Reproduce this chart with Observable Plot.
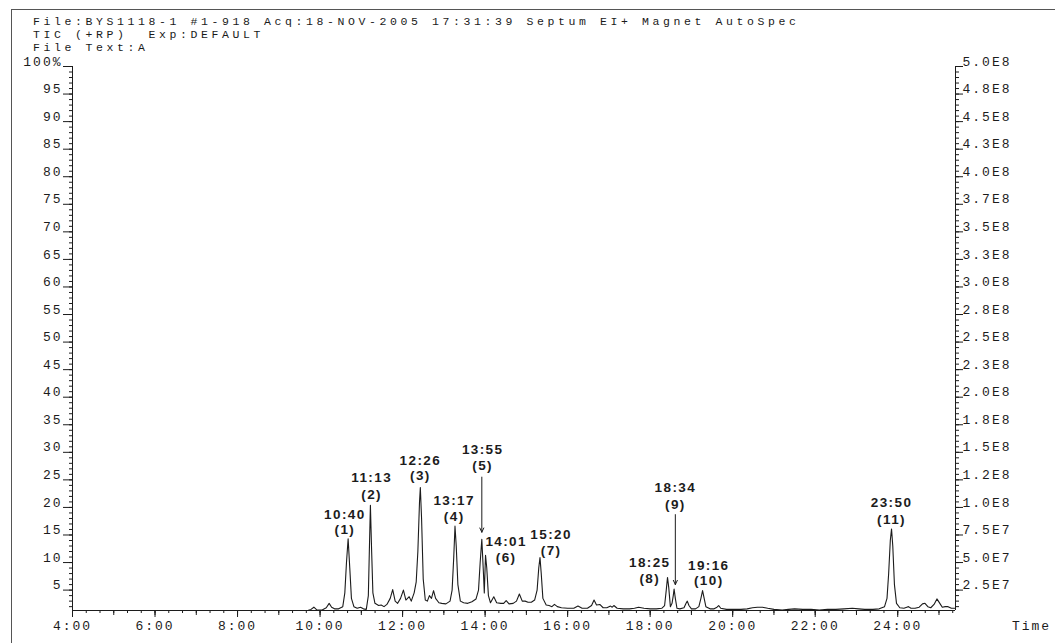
<!DOCTYPE html>
<html>
<head>
<meta charset="utf-8">
<script src="https://cdn.jsdelivr.net/npm/d3@7"></script>
<script src="https://cdn.jsdelivr.net/npm/@observablehq/plot@0.6"></script>
<style>
  html, body { margin: 0; padding: 0; background: #fff; }
  #wrap { position: relative; width: 1055px; height: 643px; overflow: hidden; background: #fff; }
  #frame { position: absolute; left: 11px; top: 9px; width: 1060px; height: 650px;
           border-left: 1px solid #555; border-top: 1px solid #555; }
  .hdr { position: absolute; left: 33px; font-family: "Liberation Mono", monospace; font-size: 11.5px;
         letter-spacing: 3.6px; color: #1a1a1a; white-space: pre; line-height: 11px; height: 11px; }
  #chart { position: absolute; left: 0; top: 0; }
  #chart svg text { letter-spacing: 2px; }
  #chart svg g.peaklab text { letter-spacing: 1.4px; }
</style>
</head>
<body>
<div id="wrap">
  <div id="frame"></div>
  <div id="chart"></div>
  <div class="hdr" style="top:16px">File:BYS1118-1 #1-918 Acq:18-NOV-2005 17:31:39 Septum EI+ Magnet AutoSpec</div>
  <div class="hdr" style="top:29px">TIC (+RP)  Exp:DEFAULT</div>
  <div class="hdr" style="top:42px">File Text:A</div>
</div>
<script>
// ---- data ----
const traceTime = [4.0, 9.70, 9.78, 9.85, 9.92, 10.05, 10.15, 10.22, 10.28, 10.35, 10.45, 10.55,
  10.60, 10.64, 10.68, 10.72, 10.76, 10.82, 10.90, 10.98, 11.05, 11.12,
  11.17, 11.20, 11.22, 11.25, 11.28, 11.33, 11.42, 11.48, 11.55, 11.62,
  11.70, 11.76, 11.82, 11.88, 11.95, 12.02, 12.08, 12.16, 12.21, 12.28, 12.33,
  12.37, 12.41, 12.43, 12.46, 12.50, 12.55, 12.60, 12.65, 12.70, 12.75, 12.80, 12.88, 12.95, 13.05, 13.15, 13.20,
  13.24, 13.27, 13.30, 13.34, 13.40, 13.48, 13.58, 13.68, 13.78, 13.84,
  13.88, 13.92, 13.96, 13.98,
  14.01, 14.04, 14.08, 14.13, 14.21, 14.28, 14.38, 14.45, 14.51, 14.58, 14.68, 14.76, 14.83, 14.90, 14.97, 15.04, 15.12, 15.20, 15.26,
  15.30, 15.33, 15.36, 15.40, 15.48, 15.55, 15.62, 15.68, 15.75, 15.85, 16.00, 16.15, 16.25, 16.35, 16.48, 16.58, 16.64, 16.70, 16.78, 16.86, 16.95, 17.04, 17.08, 17.12, 17.20, 17.35, 17.50, 17.62, 17.72, 17.85, 18.00, 18.15, 18.28, 18.35,
  18.39, 18.42, 18.45, 18.49, 18.53,
  18.56, 18.58, 18.61, 18.65, 18.72, 18.82, 18.87, 18.90, 18.94, 19.00, 19.10, 19.18, 19.23,
  19.27, 19.30, 19.35, 19.45, 19.55, 19.62, 19.66, 19.71, 19.85, 20.00, 20.20, 20.35, 20.48, 20.60, 20.72, 20.85, 21.00, 21.20, 21.35, 21.50, 21.70, 21.90, 22.10, 22.30, 22.50, 22.70, 22.90, 23.05, 23.20, 23.40, 23.55, 23.68, 23.74,
  23.78, 23.82, 23.85, 23.88, 23.92, 23.97, 24.05, 24.15, 24.22, 24.26, 24.32, 24.42, 24.52, 24.60, 24.66, 24.73, 24.80, 24.88, 24.95, 25.02, 25.08, 25.15, 25.22, 25.30, 25.38];
const traceIntensity = [1.3, 1.3, 1.5, 1.9, 1.4, 1.4, 1.8, 2.6, 1.9, 1.6, 1.6, 2.0,
  4.5, 10, 14.3, 9, 3.5, 2.0, 1.7, 1.9, 1.6, 1.5,
  4, 14, 20.4, 12, 4.5, 2.6, 2.2, 2.3, 2.0, 2.4,
  3.5, 5.1, 3.0, 2.6, 3.5, 5.0, 3.2, 3.8, 3.0, 4.5, 6.5,
  12, 21, 23.6, 18, 7, 3.2, 3.0, 4.0, 3.5, 4.9, 3.5, 2.7, 2.6, 2.5, 3.0, 5,
  11, 16.6, 13, 6, 3.0, 2.7, 2.6, 2.9, 3.4, 5,
  10, 14.2, 8, 4.5,
  11.3, 9, 4, 2.7, 3.8, 2.7, 2.6, 2.6, 3.1, 2.5, 2.6, 3.0, 4.3, 3.0, 3.0, 2.8, 2.8, 3.2, 5,
  9, 10.9, 8, 3.5, 2.3, 2.2, 2.0, 2.4, 2.0, 1.8, 1.7, 1.7, 2.1, 1.7, 1.7, 2.2, 3.2, 2.3, 2.4, 1.8, 1.8, 2.1, 1.9, 2.2, 1.7, 1.6, 1.6, 1.7, 1.9, 1.7, 1.6, 1.6, 1.7, 2.2,
  5, 7.3, 5.5, 2.0, 2.6,
  4, 5.2, 3.5, 1.7, 1.6, 1.8, 2.6, 3.0, 2.2, 1.6, 1.6, 2.0, 3.5,
  4.9, 3.8, 2.0, 1.6, 1.6, 1.9, 2.2, 1.7, 1.5, 1.5, 1.5, 1.6, 1.8, 1.9, 1.9, 1.7, 1.5, 1.4, 1.5, 1.6, 1.5, 1.5, 1.4, 1.5, 1.5, 1.6, 1.7, 1.6, 1.5, 1.5, 1.6, 2.0, 3.5,
  8, 14, 16.1, 13, 6, 2.6, 1.8, 1.7, 1.9, 2.0, 1.7, 1.7, 1.9, 2.5, 2.6, 2.0, 1.8, 2.4, 3.4, 2.6, 1.9, 2.0, 2.0, 1.7, 1.7];

const peakTimes = ["10:40", "11:13", "12:26", "13:17", "13:55", "14:01", "15:20", "18:25", "18:34", "19:16", "23:50"];
const peakNumbers = ["(1)", "(2)", "(3)", "(4)", "(5)", "(6)", "(7)", "(8)", "(9)", "(10)", "(11)"];
const labelAt = [10.60, 11.25, 12.43, 13.25, 13.94, 14.51, 15.60, 17.99, 18.61, 19.42, 23.85];
const labelTimeLevel = [18.7, 25.4, 28.5, 21.3, 30.5, 13.7, 15.1, 9.9, 23.5, 9.5, 20.8];
const labelNumLevel = [15.9, 22.3, 25.8, 18.4, 27.6, 10.9, 12.2, 7.05, 20.5, 6.7, 17.8];

const arrowAt = [13.92, 18.61];
const arrowFrom = [25.5, 18.7];
const arrowTo = [15.5, 6.0];

const leftTicks = d3.range(5, 101, 5);
const leftTickLabels = leftTicks.map(v => v === 100 ? "100%" : String(v));
const rightTickLabels = ["2.5E7", "5.0E7", "7.5E7", "1.0E8", "1.2E8", "1.5E8", "1.8E8", "2.0E8", "2.3E8", "2.5E8",
  "2.8E8", "3.0E8", "3.3E8", "3.5E8", "3.7E8", "4.0E8", "4.3E8", "4.5E8", "4.8E8", "5.0E8"];
const timeTicks = d3.range(4, 25, 2);
const timeTickLabels = timeTicks.map(m => m + ":00");

// ---- build ----
const trace = traceTime.map((t, i) => ({t, v: traceIntensity[i]}));
const labels = peakTimes.map((s, i) => ({s, n: peakNumbers[i], x: labelAt[i], y1: labelTimeLevel[i], y2: labelNumLevel[i]}));
const arrows = arrowAt.map((x, i) => ({x, y1: arrowFrom[i], y2: arrowTo[i]}));
const X0 = 4, X1 = 25.4, Y0 = 1.3, Y1 = 100;
const ink = "#1c1c1c";

const chart = Plot.plot({
  width: 1055, height: 643,
  marginLeft: 72, marginRight: 100, marginTop: 66, marginBottom: 33,
  x: {domain: [X0, X1], axis: null},
  y: {domain: [Y0, Y1], axis: null},
  style: {fontFamily: "Liberation Mono, monospace", fontSize: "13px", color: ink, background: "transparent", overflow: "visible"},
  marks: [
    // axis lines
    Plot.ruleX([X0], {stroke: ink}),
    Plot.ruleX([X1], {stroke: ink}),
    Plot.ruleY([Y0], {stroke: ink}),
    // left axis
    Plot.axisY({anchor: "left", ticks: d3.range(2, 100, 1), tickSize: 3, tickFormat: () => "", stroke: ink}),
    Plot.axisY({anchor: "left", ticks: leftTicks, tickSize: 9, tickFormat: () => "", stroke: ink}),
    Plot.axisY({anchor: "left", ticks: leftTicks, tickSize: 0, tickPadding: 10, dy: -5, fill: ink,
      tickFormat: v => leftTickLabels[leftTicks.indexOf(v)]}),
    // right axis
    Plot.axisY({anchor: "right", ticks: d3.range(2, 100, 1), tickSize: 3, tickFormat: () => "", stroke: ink}),
    Plot.axisY({anchor: "right", ticks: leftTicks, tickSize: 7, tickFormat: () => "", stroke: ink}),
    Plot.axisY({anchor: "right", ticks: leftTicks, tickSize: 0, tickPadding: 7, dy: -5, fill: ink,
      tickFormat: v => rightTickLabels[leftTicks.indexOf(v)]}),
    // time axis
    Plot.axisX({anchor: "bottom", ticks: d3.range(4, 25.4, 1 / 3), tickSize: 3, tickFormat: () => "", stroke: ink}),
    Plot.axisX({anchor: "bottom", ticks: d3.range(4, 25.4, 1), tickSize: 5, tickFormat: () => "", stroke: ink}),
    Plot.axisX({anchor: "bottom", ticks: timeTicks, tickSize: 7, tickPadding: 3, fill: ink, stroke: ink,
      tickFormat: v => timeTickLabels[timeTicks.indexOf(v)]}),
    Plot.text(["Time"], {frameAnchor: "bottom-right", dx: 76, dy: 19, text: d => d, fill: ink, textAnchor: "middle"}),
    // chromatogram
    Plot.line(trace, {x: "t", y: "v", stroke: ink, strokeWidth: 1.1, curve: "linear"}),
    // arrows
    Plot.arrow(arrows, {x1: "x", x2: "x", y1: "y1", y2: "y2", stroke: ink, strokeWidth: 1, headLength: 7, headAngle: 50}),
    // peak labels
    Plot.text(labels, {x: "x", y: "y1", text: "s", fontFamily: "Liberation Sans, Arial, sans-serif", fontWeight: "bold", fontSize: 13.5, fill: ink, className: "peaklab"}),
    Plot.text(labels, {x: "x", y: "y2", text: "n", fontFamily: "Liberation Sans, Arial, sans-serif", fontWeight: "bold", fontSize: 13.5, fill: ink, className: "peaklab"})
  ]
});
document.getElementById("chart").appendChild(chart);
</script>
</body>
</html>
